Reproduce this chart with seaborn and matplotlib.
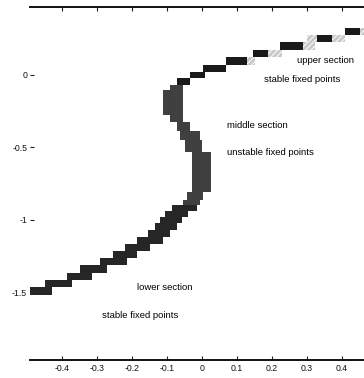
import numpy as np
import pandas as pd
import matplotlib
matplotlib.use("Agg")
import matplotlib.pyplot as plt
import seaborn as sns

# Fixed-point curve, sampled as horizontal strips (top to bottom).
# y_edges: strip boundaries; x_lo/x_hi: extent of the curve in each strip;
# core_lo/core_hi: solid part of the strip (the rest is shaded lighter).
y_edges = [0.321, 0.272, 0.224, 0.169, 0.121, 0.066, 0.017, -0.024, -0.072,
           -0.107, -0.279, -0.328, -0.390, -0.452, -0.534, -0.810, -0.866,
           -0.900, -0.941, -0.983, -1.024, -1.072, -1.121, -1.169, -1.217,
           -1.266, -1.314, -1.369, -1.417, -1.466, -1.521]
x_lo = [0.409, 0.300, 0.223, 0.146, 0.069, 0.003, -0.034, -0.071, -0.091,
        -0.111, -0.091, -0.071, -0.063, -0.049, -0.029, -0.043, -0.054,
        -0.086, -0.106, -0.120, -0.134, -0.154, -0.186, -0.220, -0.254,
        -0.291, -0.349, -0.386, -0.449, -0.491]
x_hi = [0.480, 0.409, 0.323, 0.229, 0.151, 0.069, 0.009, -0.034, -0.054,
        -0.054, -0.054, -0.034, -0.006, 0.000, 0.026, 0.003, -0.006,
        -0.014, -0.040, -0.057, -0.071, -0.091, -0.111, -0.149, -0.186,
        -0.214, -0.271, -0.314, -0.371, -0.429]
core_lo = [0.409, 0.329, 0.223, 0.146, 0.069] + x_lo[5:]
core_hi = [0.451, 0.371, 0.289, 0.189, 0.129] + x_hi[5:]
section = (["upper"] * 8) + (["middle"] * 9) + (["lower"] * 13)

xticks = [-0.4, -0.3, -0.2, -0.1, 0, 0.1, 0.2, 0.3, 0.4]
xtick_labels = ["-0.4", "-0.3", "-0.2", "-0.1", "0", "0.1", "0.2", "0.3", "0.4"]
yticks = [0, -0.5, -1, -1.5]
ytick_labels = ["0", "-0.5", "-1", "-1.5"]

notes = ["upper section", "stable fixed points", "middle section",
         "unstable fixed points", "lower section", "stable fixed points"]
note_x = [0.271, 0.177, 0.071, 0.071, -0.186, -0.286]
note_y = [0.100, -0.031, -0.348, -0.541, -1.466, -1.659]

df = pd.DataFrame({
    "top": y_edges[:-1],
    "bottom": y_edges[1:],
    "x_lo": x_lo, "x_hi": x_hi,
    "core_lo": core_lo, "core_hi": core_hi,
    "section": section,
})
df["height"] = df["top"] - df["bottom"]

sns.set_theme(style="white")
plt.rcParams["font.family"] = ["Liberation Sans", "DejaVu Sans"]
plt.rcParams["hatch.color"] = "#5a5a5a"
plt.rcParams["hatch.linewidth"] = 0.7

fig = plt.figure(figsize=(3.64, 3.78), dpi=100)
ax = fig.add_axes([30 / 364, 18 / 378, 334 / 364, 353 / 378])

shade = {"upper": "#1a1a1a", "middle": "#404040", "lower": "#262626"}

# lighter shaded extent first, then the solid core on top
ax.barh(df["bottom"], df["x_hi"] - df["x_lo"], left=df["x_lo"],
        height=df["height"], align="edge", color="#c8c8c8",
        hatch="//////", linewidth=0)
ax.barh(df["bottom"], df["core_hi"] - df["core_lo"], left=df["core_lo"],
        height=df["height"], align="edge",
        color=[shade[s] for s in df["section"]], linewidth=0)

for t, x, y in zip(notes, note_x, note_y):
    ax.text(x, y, t, ha="left", va="center", fontsize=6.8, color="#000000")

ax.set_xlim(-0.491, 0.463)
ax.set_ylim(-1.969, 0.466)
ax.set_xticks(xticks)
ax.set_xticklabels(xtick_labels)
ax.set_yticks(yticks)
ax.set_yticklabels(ytick_labels)

for side in ["left", "right"]:
    ax.spines[side].set_visible(False)
for side in ["top", "bottom"]:
    ax.spines[side].set_linewidth(1.4)
    ax.spines[side].set_color("#111111")

ax.tick_params(axis="x", which="both", bottom=True, top=True, direction="in",
               length=3, width=0.8, color="#222222", labelsize=6.3, pad=3,
               labelcolor="#111111")
ax.tick_params(axis="y", which="both", left=True, direction="in", length=3,
               width=0.8, color="#222222", labelsize=6.3, pad=2,
               labelcolor="#111111")
ax.grid(False)

fig.savefig("out.png", dpi=100, facecolor="white")
